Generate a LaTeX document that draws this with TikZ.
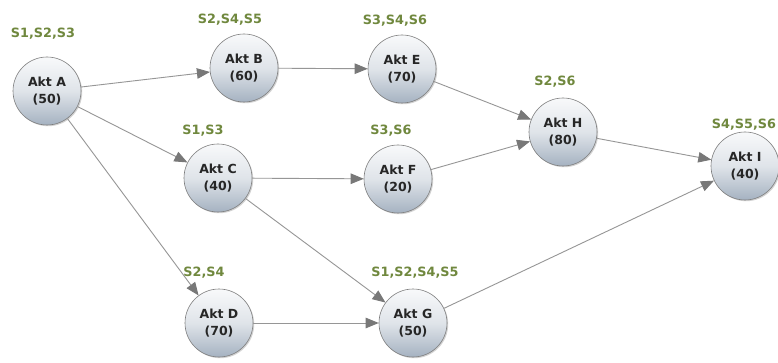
\documentclass[tikz,border=0pt]{standalone}
\usepackage{fontspec}
\setmainfont{DejaVu Sans}
\usetikzlibrary{arrows.meta,shadows}
\definecolor{lblgreen}{RGB}{112,136,62}
\definecolor{edgegray}{RGB}{150,150,150}
\definecolor{tipgray}{RGB}{120,120,120}
\definecolor{nodebot}{RGB}{165,178,193}
\definecolor{nodeborder}{RGB}{125,125,125}
\tikzset{
  akt/.style={circle, minimum size=68pt, inner sep=0pt, draw=nodeborder, line width=0.6pt,
    top color=white!92!nodebot, bottom color=nodebot, middle color=white!65!nodebot,
    drop shadow={shadow xshift=1.2pt, shadow yshift=-1.2pt, opacity=0.35},
    font=\fontsize{12.5}{16.5}\selectfont\bfseries, text=black!85, align=center},
  lbl/.style={font=\fontsize{12.8}{14}\selectfont\bfseries, text=lblgreen},
  conn/.style={draw=edgegray, line width=0.9pt, -{Triangle[length=13pt,width=10.5pt,color=tipgray]}}
}
\begin{document}
\begin{tikzpicture}[x=1pt,y=-1pt]
\useasboundingbox (0,0) rectangle (778,363);
\fill[white] (0,0) rectangle (778,363);
\node[akt] (A) at (47,91) {Akt A\\(50)};
\node[akt] (B) at (244,68) {Akt B\\(60)};
\node[akt] (C) at (218,178) {Akt C\\(40)};
\node[akt] (D) at (219,323) {Akt D\\(70)};
\node[akt] (E) at (402,69) {Akt E\\(70)};
\node[akt] (F) at (398,179) {Akt F\\(20)};
\node[akt] (G) at (413,323) {Akt G\\(50)};
\node[akt] (H) at (563,132) {Akt H\\(80)};
\node[akt] (I) at (745,166) {Akt I\\(40)};
\node[lbl] (la) at (43,34) {S1,S2,S3};
\node[lbl] (lb) at (230,20) {S2,S4,S5};
\node[lbl] (le) at (395,21) {S3,S4,S6};
\node[lbl] (lh) at (555,82) {S2,S6};
\node[lbl] (li) at (744,125) {S4,S5,S6};
\node[lbl] (lc) at (203,131) {S1,S3};
\node[lbl] (lf) at (391,131) {S3,S6};
\node[lbl] (ld) at (204,273) {S2,S4};
\node[lbl] (lg) at (415,273) {S1,S2,S4,S5};
\draw[conn] (A) -- (B);
\draw[conn] (A) -- (C);
\draw[conn] (A) -- (D);
\draw[conn] (B) -- (E);
\draw[conn] (C) -- (F);
\draw[conn] (C) -- (G);
\draw[conn] (D) -- (G);
\draw[conn] (E) -- (H);
\draw[conn] (F) -- (H);
\draw[conn] (G) -- (I);
\draw[conn] (H) -- (I);
\end{tikzpicture}
\end{document}
